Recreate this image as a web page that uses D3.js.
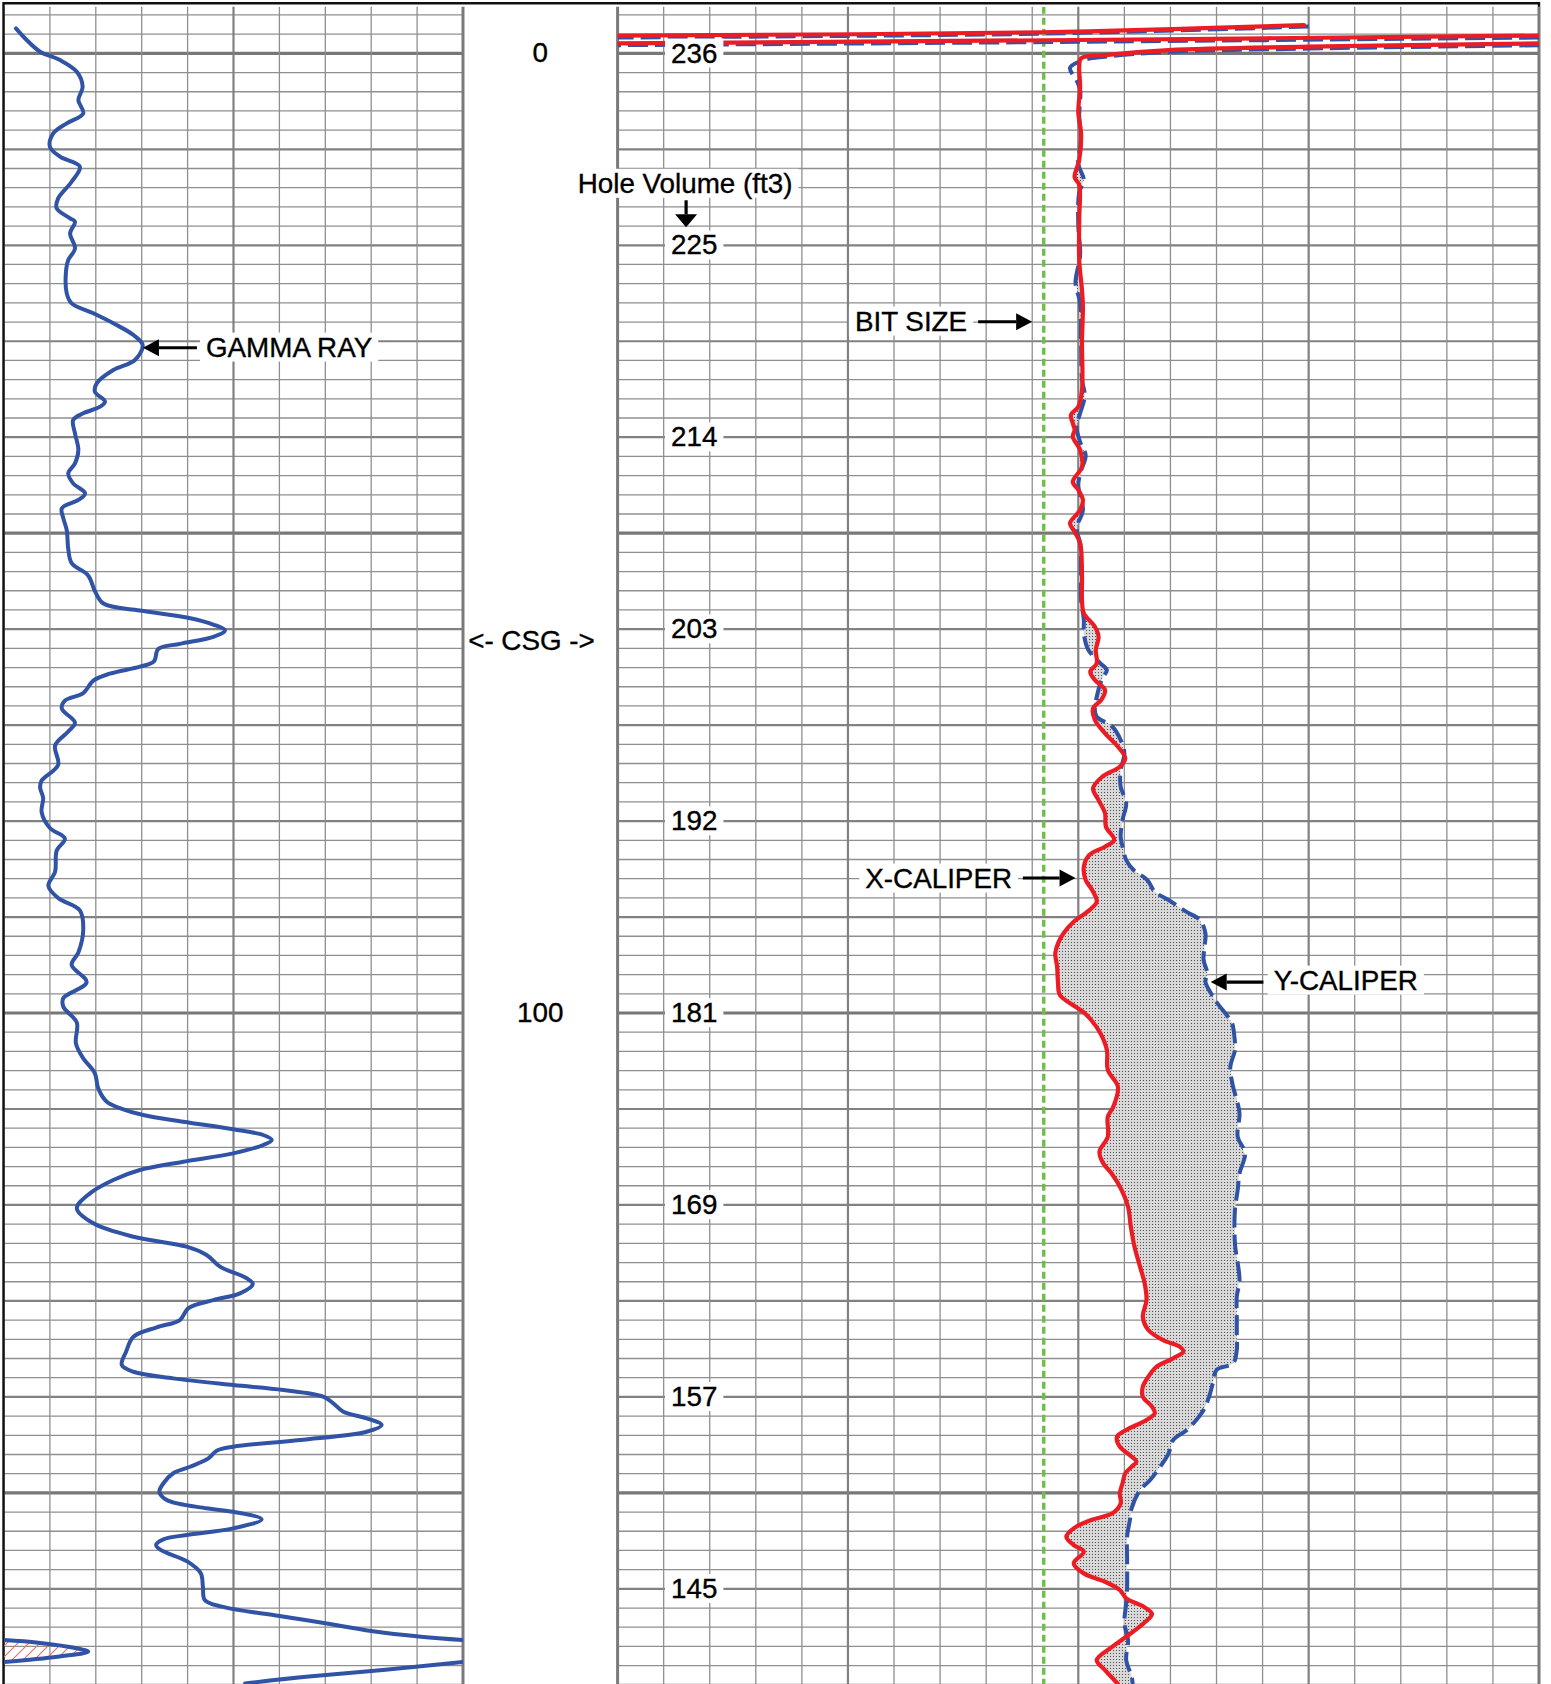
<!DOCTYPE html>
<html>
<head>
<meta charset="utf-8">
<title>Well log: gamma ray and caliper</title>
<script src="https://cdn.jsdelivr.net/npm/d3@7/dist/d3.min.js"></script>
<style>
  html, body { margin: 0; padding: 0; background: #fff; }
  svg { display: block; }
  text { font-family: "Liberation Sans", Arial, Helvetica, sans-serif; font-size: 27.8px;
         fill: #000; stroke: #000; stroke-width: 0.35px; }
</style>
</head>
<body>
<svg id="log" width="1551" height="1684"></svg>
<script>
// ---------------------------------------------------------------
// Log data: [depth, value]
// ---------------------------------------------------------------

// Gamma ray (API). Readings above 150 wrap onto the backup scale.
const gammaRay = [
  [-2.6,3.9],[-1.39,7.4],[-0.17,11.8],[0.70,18.3],[1.92,23.8],[3.48,25.7],[4.87,24.3],[6.25,25.9],
  [7.29,20.5],[8.34,16.1],[9.73,15.0],[10.77,18.3],[11.82,24.8],[13.38,22.1],[15.11,17.7],[16.15,17.2],
  [17.19,21.6],[17.55,23.2],[18.76,21.6],[20.32,23.2],[21.54,21.0],[22.58,20.3],[25.01,20.5],[26.05,22.1],
  [27.09,29.2],[28.31,36.8],[29.35,42.3],[30.39,45.3],[31.96,42.8],[33.0,35.7],[34.39,30.3],[35.26,29.7],
  [36.3,33.0],[36.82,31.4],[37.51,25.9],[38.21,22.6],[39.6,23.2],[41.34,24.3],[42.72,23.2],[43.76,21.0],
  [44.81,22.6],[45.85,26.5],[46.54,24.3],[47.41,18.9],[48.45,19.4],[49.67,20.5],[51.65,21.0],[53.11,22.1],
  [54.40,27.5],[56.03,29.7],[57.33,32.5],[58.06,44.4],[58.79,59.7],[59.52,68.4],[60.14,72.2],[60.80,68.4],
  [61.53,57.5],[62.07,50.4],[63.35,49.0],[63.91,44.4],[64.64,34.6],[65.36,29.2],[66.66,25.9],[67.45,19.9],
  [68.29,18.9],[69.75,23.2],[70.67,21.0],[72.13,16.7],[74.14,17.7],[75.78,12.3],[76.51,11.8],[77.6,12.8],
  [79.06,12.3],[80.72,15.0],[81.82,19.9],[83.09,17.2],[85.29,16.7],[86.75,14.5],[88.02,17.7],[89.31,24.8],
  [91.32,25.9],[93.7,24.3],[94.97,22.1],[96.8,27.0],[98.44,19.4],[99.35,19.4],[101.0,23.8],[103.16,23.5],
  [104.72,25.9],[106.28,29.7],[107.85,30.8],[109.24,33.6],[110.03,39.0],[110.63,45.5],[111.33,58.6],[112.12,74.9],
  [112.71,84.7],[113.23,87.5],[113.75,84.7],[114.62,74.9],[115.49,58.6],[116.36,44.4],[117.4,35.7],[118.79,28.1],
  [120.35,23.8],[121.91,29.2],[123.31,42.3],[124.35,59.7],[125.22,66.2],[126.43,70.6],[127.64,79.3],[128.24,81.3],
  [129.21,77.1],[129.91,68.4],[130.77,60.2],[131.99,57.5],[132.75,49.9],[133.73,42.3],[135.29,39.9],[136.68,38.5],
  [137.38,42.3],[138.07,55.3],[138.77,74.9],[139.29,91.3],[139.98,104.3],[140.67,107.6],[141.55,110.9],[142.23,118.5],
  [142.93,123.4],[143.63,118.5],[144.49,96.7],[145.19,74.9],[145.61,69.5],[146.4,66.8],[147.28,60.8],[147.96,55.3],
  [149.0,52.1],[149.88,50.8],[150.75,53.2],[151.61,66.2],[151.97,74.9],[152.76,84.2],[153.70,74.9],[154.39,59.7],
  [154.84,52.1],[155.43,49.7],[155.95,51.2],[157.17,60.0],[158.38,64.3],[159.77,65.0],[161.16,65.6],[161.86,71.2],
  [162.83,90.0],[163.59,105.0],[164.39,120.0],[164.99,136.3],[165.61,161.2],[166.19,173.7],[166.55,177.5],[167.07,167.5],
  [168.46,123.8],[169.17,98.7],[169.86,78.8]
];

// X caliper (inches). Readings above 16 in wrap around the track.
const xCaliper = [
  [-2.95,33.45],[-2.2,30.6],[-1.85,26.0],[-1.39,21.0],[-1.04,16.0],[-0.69,13.5],[-0.34,11.98],[0.18,11.29],
  [0.52,11.03],[1.40,11.01],[3.48,11.02],[6.22,11.00],[8.30,11.03],[11.12,11.01],[12.9,10.96],[13.72,11.01],
  [17.37,11.01],[21.54,11.01],[24.67,11.04],[26.40,11.05],[29.87,11.04],[35.08,11.04],[36.82,11.00],[37.69,10.92],
  [38.55,10.94],[39.25,10.96],[39.95,10.94],[41.34,11.02],[43.08,11.04],[44.64,10.94],[45.50,11.00],[46.54,11.05],
  [47.59,11.02],[48.97,10.91],[49.85,10.96],[51.06,11.02],[54.18,11.04],[56.97,11.04],[58.35,11.06],[59.75,11.18],
  [60.79,11.22],[62.18,11.19],[63.56,11.20],[64.44,11.13],[65.30,11.18],[66.34,11.29],[67.38,11.25],[68.25,11.16],
  [69.47,11.18],[70.85,11.29],[72.25,11.43],[73.46,11.51],[74.34,11.45],[75.38,11.26],[76.59,11.16],[77.81,11.22],
  [79.19,11.29],[80.59,11.30],[81.97,11.39],[82.67,11.29],[83.53,11.12],[84.75,11.06],[86.14,11.08],[87.18,11.15],
  [88.40,11.20],[89.44,11.10],[90.49,10.95],[91.69,10.84],[92.74,10.78],[93.78,10.75],[95.17,10.77],[96.90,10.78],
  [98.12,10.80],[99.34,10.97],[99.86,11.05],[100.73,11.14],[102.11,11.24],[103.85,11.31],[105.93,11.32],[107.68,11.43],
  [109.76,11.38],[110.81,11.32],[112.89,11.32],[114.45,11.23],[115.66,11.27],[116.70,11.36],[118.44,11.47],[120.18,11.54],
  [122.27,11.57],[124.35,11.61],[126.43,11.67],[128.17,11.72],[129.91,11.74],[131.65,11.70],[133.03,11.76],[134.08,11.92],
  [134.77,12.10],[135.29,12.14],[135.98,12.03],[136.85,11.85],[137.90,11.76],[138.94,11.70],[139.98,11.70],[141.02,11.80],
  [141.71,11.83],[142.41,11.74],[143.45,11.52],[144.15,11.42],[145.19,11.45],[146.23,11.58],[146.75,11.63],[147.27,11.58],
  [147.96,11.51],[149.0,11.48],[150.05,11.45],[151.09,11.46],[152.13,11.37],[152.83,11.14],[153.70,10.95],[154.57,10.87],
  [155.44,10.95],[156.13,11.06],[157.34,10.95],[158.39,11.06],[159.26,11.29],[160.12,11.45],[160.99,11.52],[161.86,11.71],
  [162.62,11.80],[163.59,11.71],[164.99,11.52],[166.03,11.37],[167.42,11.20],[168.46,11.29],[169.5,11.39],[169.92,11.43]
];

// Y caliper (inches)
const yCaliper = [
  [-2.8,33.5],[-2.05,30.6],[-1.65,26.0],[-1.2,21.0],[-0.85,16.0],[-0.5,13.5],[-0.15,11.98],[0.35,11.29],
  [0.72,11.05],[1.5,10.91],[2.8,10.98],[3.8,11.02],[6.5,11.01],[9.0,11.03],[11.5,11.0],[13.2,11.06],
  [14.5,11.01],[18,11.0],[21,11.02],[23.9,10.97],[26,11.02],[30,11.03],[34,11.04],[35.7,11.07],
  [37.5,11.02],[38.9,10.98],[40.5,11.02],[41.9,11.08],[43.5,11.03],[45,11.0],[47.6,11.05],[49.5,10.98],
  [51,11.02],[54,11.03],[56.97,11.03],[59.05,11.06],[60.44,11.06],[62.18,11.11],[63.56,11.24],[64.26,11.31],
  [65.12,11.26],[67.04,11.20],[68.43,11.18],[69.13,11.20],[70.17,11.37],[71.55,11.46],[72.94,11.50],[74.68,11.46],
  [76.42,11.46],[78.15,11.52],[79.89,11.48],[81.63,11.46],[82.67,11.48],[84.06,11.52],[85.10,11.60],[86.14,11.75],
  [87.36,11.83],[88.22,11.98],[89.44,12.17],[90.31,12.32],[91.69,12.38],[93.09,12.37],[94.47,12.36],[95.86,12.40],
  [96.74,12.38],[97.95,12.44],[98.99,12.51],[100.21,12.61],[101.07,12.67],[102.11,12.69],[103.85,12.70],[105.59,12.65],
  [107.68,12.68],[109.07,12.72],[110.45,12.75],[112.89,12.73],[114.62,12.81],[116.70,12.75],[118.44,12.73],[120.53,12.70],
  [124.0,12.70],[127.82,12.75],[129.56,12.72],[131.65,12.72],[133.37,12.72],[135.11,12.72],[136.50,12.68],[137.20,12.50],
  [138.58,12.46],[139.98,12.42],[141.37,12.36],[142.41,12.28],[143.45,12.18],[144.49,12.03],[145.88,11.98],[147.27,11.89],
  [148.66,11.78],[149.70,11.67],[151.57,11.58],[152.83,11.56],[154.57,11.53],[157.0,11.53],[159.78,11.53],[161.51,11.52],
  [163.59,11.50],[165.33,11.54],[167.42,11.52],[169.17,11.58],[169.92,11.59]
];

const bitSize = 10.625; // inches

const holeVolumeDepths = [0, 20, 40, 60, 80, 100, 120, 140, 160];
const holeVolumeLabels = ["236", "225", "214", "203", "192", "181", "169", "157", "145"];

const depthLabelDepths = [0, 100];
const depthLabels = ["0", "100"];

// ---------------------------------------------------------------
// Layout and scales
// ---------------------------------------------------------------
const W = 1551, H = 1684;
const svg = d3.select("#log");

const y   = d3.scaleLinear().domain([-4.85, 170]).range([6.8, 1684.8]);   // depth
const gr  = d3.scaleLinear().domain([0, 150]).range([4, 463]);            // gamma ray track
const cal = d3.scaleLinear().domain([6, 16]).range([617.6, 1539]);         // caliper track
const gridTop = y.range()[0];
const depthMid = (gr.range()[1] + cal.range()[0]) / 2;

const toPts = arr => arr.map(([d, v]) => ({ d, v }));
const grPts = toPts(gammaRay);
const xPts  = toPts(xCaliper);
const yPts  = toPts(yCaliper);

// Split a curve into pieces that each fit on the track, wrapping values
// that run past the right edge back to the left edge.
function wrapSegments(points, lo, hi) {
  const span = hi - lo;
  const band = v => Math.floor((v - lo) / span);
  const segs = [];
  let cur = null, curBand = null;
  points.forEach((p, i) => {
    const b = band(p.v);
    if (i === 0) {
      cur = { band: b, pts: [{ d: p.d, v: p.v - b * span }] };
      segs.push(cur); curBand = b; return;
    }
    const prev = points[i - 1];
    if (b !== curBand) {
      const step = b > curBand ? 1 : -1;
      for (let k = curBand; k !== b; k += step) {
        const edge = lo + (step > 0 ? k + 1 : k) * span;
        const t = (edge - prev.v) / (p.v - prev.v);
        const dd = prev.d + t * (p.d - prev.d);
        cur.pts.push({ d: dd, v: step > 0 ? hi : lo });
        cur = { band: k + step, pts: [{ d: dd, v: step > 0 ? lo : hi }] };
        segs.push(cur);
      }
      curBand = b;
    }
    cur.pts.push({ d: p.d, v: p.v - b * span });
  });
  return segs;
}

function interp(pts, d) {
  const i = d3.bisector(p => p.d).right(pts, d);
  if (i <= 0) return pts[0].v;
  if (i >= pts.length) return pts[pts.length - 1].v;
  const a = pts[i - 1], b = pts[i];
  return a.v + (b.v - a.v) * (d - a.d) / (b.d - a.d);
}

// ---------------------------------------------------------------
// Definitions: clips and fill patterns
// ---------------------------------------------------------------
const defs = svg.append("defs");
defs.append("clipPath").attr("id", "clipGR").append("rect")
  .attr("x", gr.range()[0]).attr("y", gridTop)
  .attr("width", gr.range()[1] - gr.range()[0]).attr("height", H - gridTop);
defs.append("clipPath").attr("id", "clipCAL").append("rect")
  .attr("x", cal.range()[0]).attr("y", gridTop)
  .attr("width", cal.range()[1] - cal.range()[0]).attr("height", H - gridTop);

const stipple = defs.append("pattern").attr("id", "stipple")
  .attr("patternUnits", "userSpaceOnUse").attr("width", 3).attr("height", 3);
stipple.append("rect").attr("width", 3).attr("height", 3).attr("fill", "#d8d8d8");
stipple.append("rect").attr("width", 1).attr("height", 1).attr("fill", "#4e4e4e");

const hatch = defs.append("pattern").attr("id", "hatch")
  .attr("patternUnits", "userSpaceOnUse").attr("width", 11).attr("height", 11);
hatch.append("path").attr("d", "M0,11L11,0M-2,2L2,-2M9,13L13,9")
  .attr("stroke", "#f06a6a").attr("stroke-width", 1.1);

// ---------------------------------------------------------------
// Grid
// ---------------------------------------------------------------
const grid = svg.append("g").attr("class", "grid");
const depthTicks = d3.range(-4, 171, 2);
const hStyle = t => t % 50 === 0 ? { c: "#777777", w: 3.2 }
                  : t % 10 === 0 ? { c: "#818181", w: 2.2 }
                  : { c: "#8f8f8f", w: 1.3 };

[gr.range(), cal.range()].forEach(([x0, x1]) => {
  grid.append("g").selectAll("line").data(depthTicks).join("line")
    .attr("x1", x0).attr("x2", x1)
    .attr("y1", d => y(d)).attr("y2", d => y(d))
    .attr("stroke", d => hStyle(d).c).attr("stroke-width", d => hStyle(d).w);
});

const grTicks = d3.range(0, 151, 15);
grid.append("g").selectAll("line").data(grTicks).join("line")
  .attr("x1", d => gr(d)).attr("x2", d => gr(d))
  .attr("y1", gridTop).attr("y2", H)
  .attr("stroke", d => d === 150 ? "#7a7a7a" : d === 75 ? "#818181" : "#8f8f8f")
  .attr("stroke-width", d => d === 150 ? 3 : d === 75 ? 2.2 : 1.3);

const calTicks = d3.range(0, 21).map(i => 6 + i / 2);
grid.append("g").selectAll("line").data(calTicks).join("line")
  .attr("x1", d => cal(d)).attr("x2", d => cal(d))
  .attr("y1", gridTop).attr("y2", H)
  .attr("stroke", (d, i) => (i === 0 || i === 20) ? "#7a7a7a" : i % 5 === 0 ? "#818181" : "#8f8f8f")
  .attr("stroke-width", (d, i) => (i === 0 || i === 20) ? 3 : i % 5 === 0 ? 2.2 : 1.3);

// outer frame
svg.append("path")
  .attr("d", `M3.5,${H}V3.3H${cal.range()[1]}V${gridTop}`)
  .attr("fill", "none").attr("stroke", "#111").attr("stroke-width", 2.4);

// ---------------------------------------------------------------
// Gamma ray track
// ---------------------------------------------------------------
const curve = d3.curveCatmullRom.alpha(0.5);
const grLayer = svg.append("g").attr("clip-path", "url(#clipGR)");
const grSegs = wrapSegments(grPts, 0, 150);

grSegs.filter(s => s.band > 0).forEach(s => {
  grLayer.append("path")
    .attr("d", d3.area().curve(curve).y(p => y(p.d)).x0(gr(0)).x1(p => gr(p.v))(s.pts))
    .attr("fill", "url(#hatch)");
});
const grLine = d3.line().curve(curve).x(p => gr(p.v)).y(p => y(p.d));
grSegs.forEach(s => {
  grLayer.append("path").attr("d", grLine(s.pts))
    .attr("fill", "none").attr("stroke", "#3053a6").attr("stroke-width", 4)
    .attr("stroke-linejoin", "round").attr("stroke-linecap", "round");
});

// ---------------------------------------------------------------
// Caliper track
// ---------------------------------------------------------------
const calLayer = svg.append("g").attr("clip-path", "url(#clipCAL)");

// shaded hole enlargement between the two calipers
const xOnTrack = xPts.filter(p => p.v >= 6 && p.v < 16 && p.d >= 1.5);
const yOnTrack = yPts.filter(p => p.v >= 6 && p.v < 16 && p.d >= 1.5);
const fLo = Math.max(xOnTrack[0].d, yOnTrack[0].d);
const fHi = Math.min(xOnTrack[xOnTrack.length - 1].d, yOnTrack[yOnTrack.length - 1].d);
const fillDepths = Array.from(new Set(xOnTrack.concat(yOnTrack).map(p => p.d)))
  .filter(d => d >= fLo && d <= fHi).sort((a, b) => a - b);
const fillRows = fillDepths.map(d => ({ d, a: interp(xOnTrack, d), b: interp(yOnTrack, d) }));
calLayer.append("path")
  .attr("d", d3.area().curve(curve).y(r => y(r.d)).x0(r => cal(r.a)).x1(r => cal(r.b))(fillRows))
  .attr("fill", "url(#stipple)");

// bit size
calLayer.append("line")
  .attr("x1", cal(bitSize)).attr("x2", cal(bitSize))
  .attr("y1", gridTop).attr("y2", H)
  .attr("stroke", "#6cbf48").attr("stroke-width", 3.4).attr("stroke-dasharray", "7,4");

const calLine = d3.line().curve(curve).x(p => cal(p.v)).y(p => y(p.d));
wrapSegments(yPts, 6, 16).forEach(s => {
  calLayer.append("path").attr("d", calLine(s.pts))
    .attr("fill", "none").attr("stroke", "#3053a6").attr("stroke-width", 4)
    .attr("stroke-dasharray", "20,7");
});
wrapSegments(xPts, 6, 16).forEach(s => {
  calLayer.append("path").attr("d", calLine(s.pts))
    .attr("fill", "none").attr("stroke", "#ec1c24").attr("stroke-width", 4.2)
    .attr("stroke-linejoin", "round").attr("stroke-linecap", "round");
});

// ---------------------------------------------------------------
// Labels and annotations
// ---------------------------------------------------------------
const ann = svg.append("g");

function boxedText(x, yb, str, anchor, boxed) {
  const t = ann.append("text").attr("x", x).attr("y", yb).attr("text-anchor", anchor).text(str);
  if (boxed) {
    const b = t.node().getBBox();
    ann.insert("rect", () => t.node())
      .attr("x", b.x - 6).attr("y", b.y + 1)
      .attr("width", b.width + 12).attr("height", b.height - 2)
      .attr("fill", "#fff");
  }
  return t;
}

function arrow(x0, y0, x1, y1, len = 16, half = 8.5) {
  const a = Math.atan2(y1 - y0, x1 - x0);
  const bx = x1 - len * Math.cos(a), by = y1 - len * Math.sin(a);
  ann.append("line").attr("x1", x0).attr("y1", y0).attr("x2", bx).attr("y2", by)
    .attr("stroke", "#000").attr("stroke-width", 3.2);
  const px = -Math.sin(a) * half, py = Math.cos(a) * half;
  ann.append("path").attr("d", `M${x1},${y1}L${bx + px},${by + py}L${bx - px},${by - py}Z`)
    .attr("fill", "#000");
}

// depth numbers
depthLabelDepths.forEach((d, i) => boxedText(depthMid, y(d) + 9, depthLabels[i], "middle", false));
boxedText(531.5, y(61.1) + 9.8, "<- CSG ->", "middle", false);

// hole volume scale
holeVolumeDepths.forEach((d, i) =>
  boxedText(cal.range()[0] + 76.6, y(d) + 9.2, holeVolumeLabels[i], "middle", true));
{
  const yb = y(14.53), xc = cal.range()[0] + 67.5;
  boxedText(xc, yb, "Hole Volume (ft3)", "middle", true);
  arrow(xc + 1, yb + 7.5, xc + 1, yb + 34.5, 13, 11);
}

// curve call-outs
{
  const tx = gr(45.4), ty = y(30.68);
  arrow(tx + 54, ty, tx, ty);
  boxedText(tx + 63, ty + 8.8, "GAMMA RAY", "start", true);
}
{
  const tx = cal(bitSize) - 11.6, ty = y(27.97);
  arrow(tx - 54, ty, tx, ty);
  boxedText(tx - 65, ty + 8.8, "BIT SIZE", "end", true);
}
{
  const tx = cal(10.97), ty = y(85.93);
  arrow(tx - 52.7, ty, tx, ty);
  boxedText(tx - 63.5, ty + 9.6, "X-CALIPER", "end", true);
}
{
  const tx = cal(12.437), ty = y(96.77);
  arrow(tx + 52.7, ty, tx, ty);
  boxedText(tx + 63, ty + 7.6, "Y-CALIPER", "start", true);
}
</script>
</body>
</html>
